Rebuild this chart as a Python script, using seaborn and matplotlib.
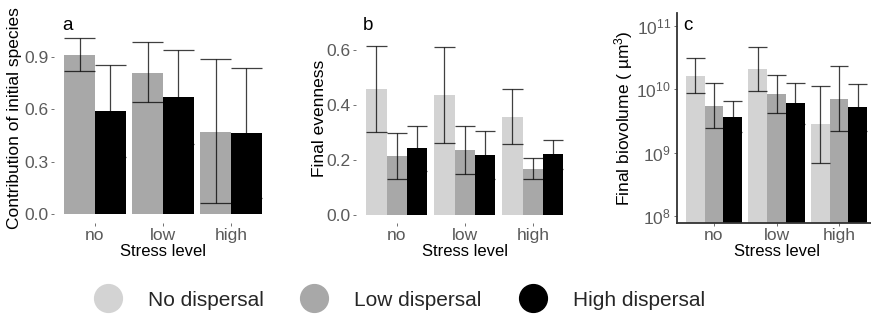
import numpy as np
import pandas as pd
import matplotlib
matplotlib.use("Agg")
import matplotlib.pyplot as plt
import seaborn as sns
from matplotlib.lines import Line2D
from matplotlib.ticker import NullLocator, FixedLocator

sns.set_theme(style="white")
plt.rcParams['font.family'] = ['Liberation Sans', 'DejaVu Sans']
plt.rcParams['mathtext.default'] = 'regular'

# ---------------- data ----------------
stress = ['no', 'low', 'high']
dispersal = ['No dispersal', 'Low dispersal', 'High dispersal']

# panel a: contribution of initial species (only low/high dispersal)
contrib_low = [0.91, 0.81, 0.47]
contrib_low_lo = [0.82, 0.64, 0.065]
contrib_low_hi = [1.01, 0.985, 0.885]
contrib_high = [0.59, 0.67, 0.465]
contrib_high_lo = [0.325, 0.40, 0.095]
contrib_high_hi = [0.855, 0.94, 0.835]

# panel b: final evenness
even_none = [0.457, 0.437, 0.357]
even_none_lo = [0.300, 0.262, 0.256]
even_none_hi = [0.615, 0.611, 0.460]
even_low = [0.212, 0.236, 0.166]
even_low_lo = [0.129, 0.149, 0.128]
even_low_hi = [0.298, 0.325, 0.206]
even_high = [0.242, 0.217, 0.220]
even_high_lo = [0.159, 0.128, 0.167]
even_high_hi = [0.325, 0.306, 0.273]

# panel c: final biovolume (um^3)
bio_none = [1.63e10, 2.04e10, 2.8e9]
bio_none_lo = [8.6e9, 9.3e9, 6.95e8]
bio_none_hi = [3.09e10, 4.6e10, 1.13e10]
bio_low = [5.46e9, 8.34e9, 6.95e9]
bio_low_lo = [2.45e9, 4.18e9, 2.17e9]
bio_low_hi = [1.23e10, 1.66e10, 2.28e10]
bio_high = [3.66e9, 5.94e9, 5.14e9]
bio_high_lo = [2.07e9, 2.8e9, 2.2e9]
bio_high_hi = [6.46e9, 1.26e10, 1.2e10]

colors = {'No dispersal': '#d3d3d3', 'Low dispersal': '#a8a8a8', 'High dispersal': '#000000'}
TICK_COL = '#5a5a5a'


def make_df(series):
    rows = []
    for name, vals, lo, hi in series:
        for s, v, l, h in zip(stress, vals, lo, hi):
            rows.append(dict(stress=s, dispersal=name, value=v, lo=l, hi=h))
    return pd.DataFrame(rows)


df_a = make_df([('Low dispersal', contrib_low, contrib_low_lo, contrib_low_hi),
                ('High dispersal', contrib_high, contrib_high_lo, contrib_high_hi)])
df_b = make_df([('No dispersal', even_none, even_none_lo, even_none_hi),
                ('Low dispersal', even_low, even_low_lo, even_low_hi),
                ('High dispersal', even_high, even_high_lo, even_high_hi)])
df_c = make_df([('No dispersal', bio_none, bio_none_lo, bio_none_hi),
                ('Low dispersal', bio_low, bio_low_lo, bio_low_hi),
                ('High dispersal', bio_high, bio_high_lo, bio_high_hi)])

W, H = 871, 316
fig = plt.figure(figsize=(W / 100, H / 100), dpi=100)

top_px, bot_px = 13, 223
def rect(left_px, width_px):
    return [left_px / W, 1 - bot_px / H, width_px / W, (bot_px - top_px) / H]

ax_a = fig.add_axes(rect(54.2, 217.6))
ax_b = fig.add_axes(rect(356, 217.6))
ax_c = fig.add_axes(rect(676.5, 200))


def draw(ax, df, hue_order):
    sns.barplot(data=df, x='stress', y='value', hue='dispersal', order=stress,
                hue_order=hue_order, palette=colors, width=0.9, errorbar=None,
                saturation=1, legend=False, ax=ax, linewidth=0)
    # error bars from bar geometry
    bars = [p for p in ax.patches if p.get_width() > 0]
    k = 0
    for name in hue_order:
        sub = df[df.dispersal == name].set_index('stress').loc[stress]
        for s in stress:
            p = bars[k]; k += 1
            x0 = p.get_x(); w = p.get_width(); xc = x0 + w / 2
            lo, hi = sub.loc[s, 'lo'], sub.loc[s, 'hi']
            ax.vlines(xc, lo, hi, color='black', alpha=0.75, lw=0.9, zorder=3)
            ax.hlines([lo, hi], x0, x0 + w, color='black', alpha=0.75, lw=0.9, zorder=3)
    ax.set_xlim(-0.6, 2.6)
    ax.set_xlabel('Stress level', fontsize=12, color='black')
    ax.xaxis.set_label_coords(0.5, -0.1)
    ax.tick_params(axis='both', labelsize=12.5, colors=TICK_COL, length=2.5,
                   width=0.6, pad=1.5, left=True, bottom=True)
    ax.tick_params(axis='x', pad=1.0)


draw(ax_a, df_a, ['Low dispersal', 'High dispersal'])
draw(ax_b, df_b, dispersal)
draw(ax_c, df_c, dispersal)

# panel a
ax_a.set_ylim(-0.0497, 1.15)
ax_a.set_yticks([0.0, 0.3, 0.6, 0.9])
ax_a.set_yticklabels(['0.0', '0.3', '0.6', '0.9'])
ax_a.set_ylabel('Contribution of initial species', fontsize=12.5, color='black')
ax_a.yaxis.set_label_coords(-0.148, 0.5)

# panel b
ax_b.set_ylim(-0.031, 0.736)
ax_b.set_yticks([0.0, 0.2, 0.4, 0.6])
ax_b.set_yticklabels(['0.0', '0.2', '0.4', '0.6'])
ax_b.set_ylabel('Final evenness', fontsize=12.5, color='black')
ax_b.yaxis.set_label_coords(-0.133, 0.5)

for ax in (ax_a, ax_b):
    for sp in ax.spines.values():
        sp.set_visible(False)

# panel c
ax_c.set_yscale('log')
ax_c.set_ylim(10 ** 7.89, 10 ** 11.197)
ax_c.yaxis.set_major_locator(FixedLocator([1e8, 1e9, 1e10, 1e11]))
ax_c.yaxis.set_minor_locator(NullLocator())
ax_c.set_yticklabels(['$10^{8}$', '$10^{9}$', '$10^{10}$', '$10^{11}$'])
ax_c.set_ylabel('Final biovolume ( µm$^{3}$)', fontsize=12.5, color='black')
ax_c.yaxis.set_label_coords(-0.2075, 0.5)
for side in ('top', 'right'):
    ax_c.spines[side].set_visible(False)
for side in ('left', 'bottom'):
    ax_c.spines[side].set_color('#333333')
    ax_c.spines[side].set_linewidth(1.3)

# panel letters
for ax, lab, xx in ((ax_a, 'a', 0.063), (ax_b, 'b', 0.055), (ax_c, 'c', 0.055)):
    ax.text(xx, 0.94, lab, transform=ax.transAxes, fontsize=13.5,
            ha='center', va='center', color='black')

# legend
handles = [Line2D([], [], marker='o', linestyle='none', markersize=20,
                  markerfacecolor=colors[d], markeredgecolor=colors[d])
           for d in dispersal]
fig.legend(handles, dispersal, loc='center', ncol=3, frameon=False,
           bbox_to_anchor=(399 / W, 1 - 300 / H), fontsize=15,
           handlelength=1.4, handletextpad=1.22, columnspacing=1.75,
           borderpad=0, borderaxespad=0)

fig.savefig('out.png', dpi=100)
